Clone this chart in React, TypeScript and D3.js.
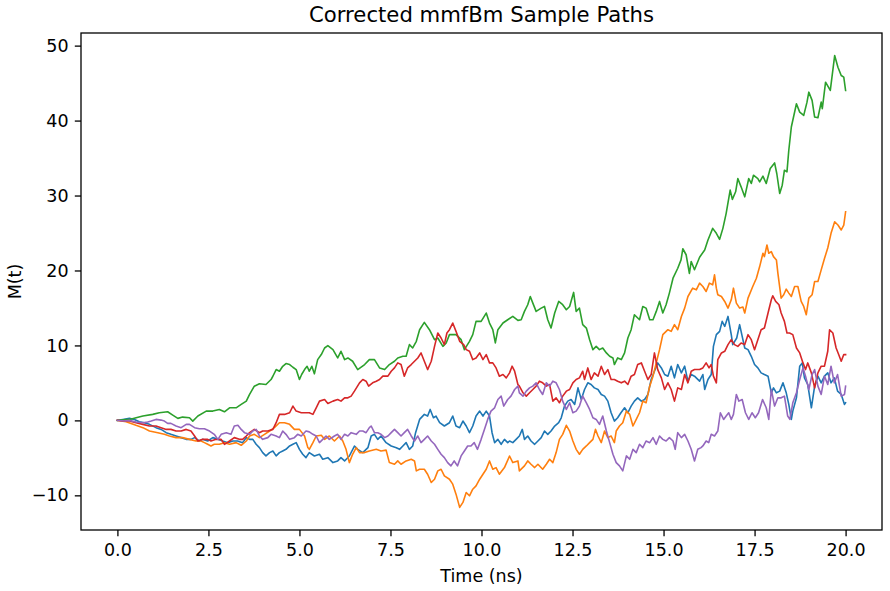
import { useEffect, useRef } from 'react';
import * as d3 from 'd3';

const W = 890;
const H = 591;
const MARGIN = { top: 33, right: 8, bottom: 61, left: 81 };
const FONT = '"DejaVu Sans", sans-serif';

type Pt = [number, number];

// [time (ns), M(t)] for each sample path
const pathBlue: Pt[] = [
  [0, 0], [0.15, 0.13], [0.33, 0.27], [0.47, 0.13], [0.6, -0.18], [0.74, -0.31], [0.88, -0.53], [1.06, -0.97],
  [1.2, -1.2], [1.34, -1.64], [1.47, -1.86], [1.61, -2.08], [1.75, -2.3], [1.89, -2.53], [2.02, -2.53], [2.12, -2.3],
  [2.25, -2.75], [2.34, -2.53], [2.48, -2.75], [2.62, -2.3], [2.76, -2.53], [2.89, -2.75], [3.03, -2.97], [3.17, -2.75],
  [3.3, -2.75], [3.44, -2.97], [3.54, -2.3], [3.63, -2.53], [3.72, -2.53], [3.81, -3.19], [3.9, -3.63], [3.99, -4.3],
  [4.08, -4.74], [4.18, -4.3], [4.27, -4.08], [4.36, -4.74], [4.45, -4.3], [4.54, -4.08], [4.63, -3.86], [4.73, -3.41],
  [4.82, -3.19], [4.91, -2.97], [5.0, -3.86], [5.09, -4.52], [5.18, -4.96], [5.27, -4.3], [5.41, -4.75], [5.55, -4.52],
  [5.64, -5.19], [5.78, -4.97], [5.92, -5.63], [6.05, -5.41], [6.14, -4.97], [6.24, -5.41], [6.37, -4.75], [6.51, -3.42],
  [6.6, -3.86], [6.74, -4.3], [6.88, -3.64], [6.97, -2.08], [7.06, -1.86], [7.15, -2.53], [7.24, -2.08], [7.38, -2.97],
  [7.52, -3.42], [7.66, -3.64], [7.75, -3.86], [7.84, -3.42], [7.93, -2.97], [8.02, -3.86], [8.11, -3.42], [8.19, -1.64],
  [8.3, 0.13], [8.43, 0.8], [8.52, 0.58], [8.59, 1.46], [8.68, 0.35], [8.75, 0.58], [8.85, -0.31], [8.98, -0.75],
  [9.12, -0.31], [9.21, 0.58], [9.3, -0.75], [9.4, -0.97], [9.49, -0.09], [9.58, -0.75], [9.67, -1.64], [9.76, -0.75],
  [9.85, 0.58], [9.95, 1.24], [10.04, 0.58], [10.13, 1.24], [10.22, 0.58], [10.29, -1.64], [10.36, -2.97], [10.45, -2.53],
  [10.54, -3.19], [10.63, -2.53], [10.72, -2.97], [10.77, -2.75], [10.86, -2.97], [10.95, -2.53], [11.04, -2.08], [11.12, -1.2],
  [11.18, -2.53], [11.27, -2.08], [11.36, -2.75], [11.46, -3.19], [11.55, -2.75], [11.64, -2.3], [11.73, -1.42], [11.82, -1.86],
  [11.91, -1.42], [12.01, -0.75], [12.12, -0.31], [12.19, 0.35], [12.28, 1.91], [12.37, 2.57], [12.46, 2.79], [12.56, 2.13],
  [12.65, 4.34], [12.74, 2.79], [12.83, 4.12], [12.92, 5.01], [13.01, 4.79], [13.1, 4.34], [13.2, 4.12], [13.29, 3.46],
  [13.38, 3.24], [13.47, 2.57], [13.56, 1.02], [13.65, -0.09], [13.74, 0.35], [13.83, 1.02], [13.93, 1.68], [14.02, 1.02],
  [14.11, 1.91], [14.2, 2.57], [14.29, 3.01], [14.39, 2.57], [14.48, 2.79], [14.57, 3.46], [14.66, 5.45], [14.75, 6.56],
  [14.84, 7.67], [14.94, 7.0], [15.03, 6.12], [15.12, 5.9], [15.21, 7.23], [15.3, 5.67], [15.39, 7.45], [15.49, 6.34],
  [15.58, 7.23], [15.67, 5.23], [15.76, 6.12], [15.85, 5.9], [15.99, 5.23], [16.08, 6.12], [16.13, 4.12], [16.22, 5.45],
  [16.31, 6.12], [16.37, 9.88], [16.45, 11.44], [16.54, 11.88], [16.61, 13.21], [16.68, 12.54], [16.77, 13.87], [16.86, 11.44],
  [16.9, 10.11], [17.01, 10.99], [17.09, 12.77], [17.16, 11.21], [17.23, 9.66], [17.32, 9.44], [17.41, 8.55], [17.5, 7.45],
  [17.59, 7.0], [17.68, 6.34], [17.77, 6.12], [17.87, 5.9], [17.96, 3.68], [18.02, 4.34], [18.1, 3.68], [18.19, 3.9],
  [18.28, 5.01], [18.37, 3.68], [18.44, 2.13], [18.51, 0.13], [18.55, 1.24], [18.65, 3.01], [18.74, 7.23], [18.81, 7.67],
  [18.87, 5.67], [18.96, 4.79], [19.06, 1.68], [19.15, 4.57], [19.24, 5.9], [19.33, 5.01], [19.42, 5.9], [19.51, 6.34],
  [19.6, 5.01], [19.69, 5.67], [19.78, 3.9], [19.88, 3.46], [19.97, 2.13], [20.0, 2.35],
];

const pathOrange: Pt[] = [
  [0, 0], [0.24, -0.18], [0.51, -0.66], [0.7, -0.97], [0.88, -1.42], [1.11, -1.64], [1.29, -1.86], [1.43, -2.08],
  [1.61, -2.3], [1.79, -2.3], [1.98, -2.53], [2.16, -2.75], [2.3, -2.75], [2.39, -2.97], [2.48, -3.19], [2.57, -3.41],
  [2.66, -3.19], [2.8, -3.19], [2.94, -2.97], [3.08, -3.19], [3.26, -2.97], [3.4, -3.32], [3.54, -2.75], [3.63, -2.08],
  [3.76, -1.86], [3.9, -2.3], [4.04, -1.86], [4.18, -1.42], [4.31, -0.97], [4.45, -0.31], [4.59, -0.31], [4.73, -0.53],
  [4.86, -1.2], [5.0, -1.2], [5.14, -2.08], [5.23, -3.63], [5.27, -3.86], [5.37, -2.97], [5.46, -2.08], [5.6, -1.99],
  [5.69, -2.53], [5.82, -2.08], [5.96, -2.75], [6.1, -2.08], [6.19, -2.75], [6.28, -3.86], [6.37, -5.63], [6.46, -4.52],
  [6.56, -3.64], [6.65, -4.3], [6.79, -4.3], [6.92, -4.08], [7.11, -3.86], [7.24, -4.08], [7.38, -3.97], [7.47, -5.63],
  [7.61, -5.85], [7.7, -5.41], [7.79, -5.85], [7.93, -5.41], [8.07, -5.19], [8.16, -5.41], [8.21, -6.74], [8.3, -6.52],
  [8.43, -6.52], [8.52, -7.18], [8.62, -8.29], [8.71, -7.85], [8.8, -6.74], [8.89, -6.52], [8.98, -7.4], [9.12, -7.85],
  [9.21, -8.51], [9.3, -9.84], [9.4, -11.61], [9.49, -10.94], [9.58, -9.62], [9.67, -10.06], [9.76, -9.18], [9.85, -8.74],
  [9.95, -7.85], [10.04, -7.18], [10.13, -6.52], [10.22, -5.41], [10.31, -6.52], [10.4, -6.3], [10.49, -7.18], [10.63, -6.3],
  [10.77, -4.75], [10.86, -5.63], [11.0, -5.41], [11.04, -6.74], [11.18, -6.07], [11.27, -5.41], [11.36, -5.85], [11.46, -6.29],
  [11.55, -5.85], [11.68, -6.52], [11.78, -5.85], [11.87, -5.19], [11.96, -5.63], [12.05, -4.3], [12.14, -2.53], [12.23, -1.86],
  [12.33, -0.66], [12.42, -1.42], [12.51, -2.75], [12.6, -3.86], [12.69, -4.52], [12.78, -3.86], [12.88, -3.41], [12.97, -2.97],
  [13.06, -2.53], [13.13, -1.2], [13.2, -2.08], [13.29, -2.97], [13.38, -1.42], [13.47, -2.3], [13.56, -2.08], [13.65, -2.97],
  [13.7, -1.42], [13.79, -0.75], [13.88, -0.31], [13.98, 1.24], [14.07, 0.8], [14.16, -0.75], [14.25, 0.13], [14.34, 1.02],
  [14.43, 2.57], [14.52, 2.35], [14.62, 4.57], [14.71, 5.9], [14.8, 7.67], [14.89, 9.44], [14.98, 11.44], [15.12, 12.1],
  [15.21, 11.88], [15.3, 12.77], [15.39, 12.1], [15.49, 13.87], [15.58, 14.98], [15.67, 16.53], [15.8, 17.64], [15.9, 17.42],
  [15.99, 18.31], [16.08, 17.86], [16.17, 17.2], [16.26, 18.31], [16.35, 18.09], [16.4, 19.41], [16.45, 17.64], [16.49, 16.76],
  [16.59, 16.53], [16.68, 15.87], [16.77, 14.98], [16.86, 16.09], [16.92, 17.64], [17.0, 15.65], [17.09, 14.98], [17.18, 15.12],
  [17.23, 14.32], [17.32, 16.31], [17.45, 17.86], [17.55, 18.97], [17.64, 20.52], [17.73, 22.3], [17.77, 21.85], [17.84, 23.4],
  [17.89, 22.3], [17.96, 22.52], [18.02, 21.85], [18.1, 21.41], [18.14, 19.64], [18.23, 16.31], [18.3, 16.76], [18.37, 17.51],
  [18.44, 16.98], [18.51, 16.53], [18.6, 17.86], [18.69, 17.86], [18.78, 15.87], [18.85, 15.2], [18.92, 14.1], [18.99, 16.31],
  [19.08, 16.76], [19.15, 18.53], [19.24, 18.53], [19.33, 20.08], [19.42, 21.6], [19.51, 23.0], [19.6, 24.96], [19.7, 26.5],
  [19.79, 26.06], [19.88, 25.4], [19.95, 26.06], [20.0, 27.83],
];

const pathGreen: Pt[] = [
  [0, 0], [0.33, 0.13], [0.7, 0.58], [0.97, 0.8], [1.15, 1.02], [1.38, 1.15], [1.52, 0.71], [1.66, 0.27],
  [1.79, 0.44], [1.98, 0.35], [2.07, -0.09], [2.21, 0.58], [2.44, 1.24], [2.62, 1.24], [2.8, 1.46], [2.94, 1.15],
  [3.08, 1.68], [3.26, 1.68], [3.4, 2.13], [3.54, 2.57], [3.63, 3.46], [3.76, 4.56], [3.9, 4.88], [4.08, 4.79],
  [4.22, 5.45], [4.27, 5.89], [4.36, 6.78], [4.45, 6.56], [4.54, 7.22], [4.63, 7.58], [4.73, 7.45], [4.82, 7.09],
  [4.91, 6.78], [5.0, 5.45], [5.06, 6.12], [5.14, 6.78], [5.21, 7.22], [5.27, 6.56], [5.34, 7.22], [5.41, 6.21],
  [5.5, 8.11], [5.6, 8.78], [5.69, 9.66], [5.78, 9.97], [5.92, 9.44], [6.05, 8.33], [6.14, 9.22], [6.24, 8.11],
  [6.33, 8.33], [6.46, 7.89], [6.6, 6.78], [6.79, 7.45], [6.92, 8.11], [7.06, 8.11], [7.2, 7.0], [7.34, 6.78],
  [7.47, 7.45], [7.61, 7.89], [7.7, 8.33], [7.84, 8.55], [7.93, 8.55], [8.02, 10.11], [8.11, 9.66], [8.21, 10.55],
  [8.3, 12.1], [8.43, 13.08], [8.57, 12.1], [8.71, 10.77], [8.8, 10.99], [8.94, 9.88], [9.03, 10.33], [9.12, 11.44],
  [9.3, 11.44], [9.44, 10.77], [9.53, 9.44], [9.67, 10.55], [9.76, 11.44], [9.85, 13.21], [9.99, 13.21], [10.13, 14.32],
  [10.22, 12.99], [10.31, 12.1], [10.38, 10.33], [10.45, 12.1], [10.59, 12.99], [10.72, 13.43], [10.86, 13.87], [11.0, 13.34],
  [11.09, 13.43], [11.18, 14.54], [11.27, 15.43], [11.34, 16.53], [11.41, 15.65], [11.5, 14.54], [11.64, 14.98], [11.73, 15.2],
  [11.82, 13.43], [11.91, 12.32], [12.01, 14.32], [12.12, 15.87], [12.23, 15.43], [12.33, 14.76], [12.42, 15.2], [12.53, 17.07],
  [12.6, 14.54], [12.69, 14.98], [12.78, 12.77], [12.88, 12.32], [12.97, 10.77], [13.06, 9.44], [13.15, 9.88], [13.24, 9.44],
  [13.33, 9.66], [13.43, 9.0], [13.52, 8.55], [13.61, 8.33], [13.65, 7.45], [13.74, 8.33], [13.84, 8.11], [13.93, 9.0],
  [14.02, 10.99], [14.11, 12.1], [14.2, 14.1], [14.34, 13.43], [14.43, 15.2], [14.52, 14.98], [14.62, 13.43], [14.71, 13.43],
  [14.8, 14.54], [14.89, 15.87], [14.98, 14.32], [15.07, 15.43], [15.16, 16.98], [15.26, 18.97], [15.39, 20.3], [15.48, 21.41],
  [15.53, 22.9], [15.62, 22.1], [15.71, 19.6], [15.76, 21.2], [15.85, 20.1], [15.99, 21.77], [16.13, 22.74], [16.22, 24.07],
  [16.35, 25.62], [16.45, 24.96], [16.54, 24.16], [16.63, 25.62], [16.72, 27.62], [16.83, 30.72], [16.89, 29.48], [16.98, 30.5],
  [17.04, 32.27], [17.13, 31.16], [17.23, 29.83], [17.34, 32.27], [17.41, 31.61], [17.47, 32.71], [17.59, 32.27], [17.64, 31.83],
  [17.73, 32.58], [17.82, 31.61], [17.93, 33.6], [18.05, 34.35], [18.11, 32.94], [18.19, 30.28], [18.26, 31.38], [18.32, 33.38],
  [18.39, 33.16], [18.44, 36.04], [18.51, 39.14], [18.65, 42.24], [18.74, 41.13], [18.85, 40.69], [18.94, 42.46], [18.99, 43.79],
  [19.08, 42.69], [19.15, 40.47], [19.24, 40.38], [19.33, 42.46], [19.36, 41.58], [19.45, 45.12], [19.58, 44.02], [19.7, 48.67],
  [19.79, 47.12], [19.88, 46.01], [19.95, 45.79], [20.0, 44.02],
];

const pathRed: Pt[] = [
  [0, 0], [0.15, -0.09], [0.33, -0.09], [0.51, -0.31], [0.7, -0.53], [0.88, -0.75], [1.06, -0.75], [1.2, -0.97],
  [1.34, -1.2], [1.47, -1.2], [1.61, -1.42], [1.75, -1.42], [1.89, -1.2], [2.02, -1.42], [2.12, -2.08], [2.21, -2.75],
  [2.34, -2.53], [2.48, -2.53], [2.57, -2.75], [2.71, -2.53], [2.85, -2.53], [2.94, -3.19], [3.08, -2.75], [3.21, -2.3],
  [3.35, -2.53], [3.44, -2.53], [3.54, -2.08], [3.63, -1.64], [3.76, -1.2], [3.9, -1.64], [3.99, -1.42], [4.13, -1.42],
  [4.27, -1.2], [4.36, -0.31], [4.45, 0.8], [4.59, 0.8], [4.73, 1.02], [4.82, 1.91], [4.91, 1.24], [5.05, 1.02],
  [5.18, 1.02], [5.27, 1.02], [5.37, 0.8], [5.46, 1.68], [5.55, 2.57], [5.69, 2.79], [5.78, 2.26], [5.92, 2.57],
  [6.05, 2.79], [6.14, 2.57], [6.24, 3.01], [6.33, 3.01], [6.42, 3.24], [6.51, 3.9], [6.65, 5.01], [6.74, 5.45],
  [6.83, 5.23], [6.9, 4.57], [7.01, 5.01], [7.11, 5.23], [7.2, 5.45], [7.29, 5.9], [7.43, 5.9], [7.52, 6.56],
  [7.61, 7.0], [7.7, 7.67], [7.79, 7.45], [7.88, 5.9], [7.97, 7.0], [8.07, 7.45], [8.16, 7.89], [8.25, 8.33],
  [8.34, 9.0], [8.43, 7.89], [8.52, 6.78], [8.62, 7.89], [8.71, 9.88], [8.8, 11.66], [8.89, 10.99], [8.98, 10.11],
  [9.05, 11.66], [9.12, 12.1], [9.21, 12.99], [9.3, 11.88], [9.4, 10.55], [9.51, 10.11], [9.58, 9.44], [9.67, 9.22],
  [9.76, 8.11], [9.85, 8.33], [9.95, 9.0], [10.04, 8.11], [10.13, 8.78], [10.22, 7.67], [10.31, 7.67], [10.4, 7.0],
  [10.49, 5.9], [10.59, 6.12], [10.68, 5.67], [10.77, 6.34], [10.84, 7.23], [10.91, 6.56], [11.0, 4.79], [11.04, 4.57],
  [11.14, 3.68], [11.23, 3.24], [11.32, 3.68], [11.41, 4.12], [11.5, 4.57], [11.59, 5.23], [11.68, 5.01], [11.78, 4.57],
  [11.87, 4.79], [11.96, 2.57], [12.05, 3.01], [12.14, 2.35], [12.23, 3.24], [12.33, 3.9], [12.42, 4.12], [12.51, 5.01],
  [12.6, 5.45], [12.69, 5.67], [12.78, 6.56], [12.83, 5.45], [12.92, 7.0], [13.01, 5.45], [13.1, 6.34], [13.2, 5.9],
  [13.29, 7.23], [13.38, 6.12], [13.47, 6.78], [13.56, 5.45], [13.65, 5.45], [13.74, 5.23], [13.84, 5.01], [13.93, 5.23],
  [14.02, 4.79], [14.11, 5.9], [14.2, 6.12], [14.29, 7.45], [14.39, 7.67], [14.48, 6.56], [14.57, 5.45], [14.66, 6.12],
  [14.75, 9.0], [14.84, 6.78], [14.94, 5.67], [15.03, 4.12], [15.12, 5.01], [15.21, 4.12], [15.3, 2.57], [15.39, 4.34],
  [15.49, 4.12], [15.58, 6.12], [15.67, 5.01], [15.76, 6.56], [15.85, 6.78], [15.99, 6.78], [16.08, 7.0], [16.17, 7.67],
  [16.25, 7.0], [16.31, 7.45], [16.37, 5.9], [16.45, 5.01], [16.49, 8.11], [16.59, 9.0], [16.68, 9.22], [16.77, 10.11],
  [16.86, 10.77], [16.95, 10.11], [17.04, 9.88], [17.13, 10.33], [17.23, 10.11], [17.32, 11.44], [17.41, 10.77], [17.5, 9.44],
  [17.59, 10.77], [17.68, 12.1], [17.77, 12.32], [17.87, 14.32], [17.96, 16.09], [18.0, 16.62], [18.08, 15.87], [18.17, 15.43],
  [18.23, 14.32], [18.32, 13.21], [18.39, 11.66], [18.46, 11.66], [18.55, 11.44], [18.65, 9.66], [18.74, 9.0], [18.83, 7.67],
  [18.9, 6.78], [18.96, 7.67], [19.06, 6.34], [19.15, 4.34], [19.24, 6.34], [19.33, 7.23], [19.42, 7.23], [19.51, 9.22],
  [19.56, 12.1], [19.65, 11.66], [19.74, 9.66], [19.81, 8.78], [19.88, 7.89], [19.95, 8.78], [20.0, 8.78],
];

const pathPurple: Pt[] = [
  [0, 0], [0.19, -0.09], [0.33, 0], [0.51, -0.22], [0.7, -0.31], [0.83, -0.22], [0.93, -0.09], [1.06, 0.13],
  [1.2, 0.04], [1.29, -0.09], [1.38, -0.4], [1.47, -0.4], [1.61, -0.75], [1.75, -0.97], [1.89, -0.53], [1.98, -0.53],
  [2.12, -0.97], [2.25, -1.11], [2.39, -1.11], [2.53, -1.42], [2.66, -1.86], [2.76, -2.53], [2.85, -1.86], [2.99, -1.64],
  [3.12, -1.86], [3.21, -0.75], [3.31, -0.66], [3.4, -1.2], [3.49, -1.64], [3.63, -1.86], [3.72, -1.42], [3.81, -1.2],
  [3.9, -2.08], [3.99, -2.53], [4.13, -2.3], [4.22, -1.86], [4.36, -2.08], [4.45, -2.3], [4.54, -1.42], [4.63, -1.86],
  [4.73, -2.53], [4.86, -2.3], [4.95, -1.86], [5.05, -2.08], [5.18, -1.42], [5.27, -1.53], [5.37, -1.86], [5.46, -2.08],
  [5.55, -2.97], [5.64, -2.53], [5.73, -2.08], [5.82, -2.53], [5.96, -2.08], [6.05, -1.86], [6.14, -2.53], [6.24, -1.86],
  [6.33, -2.08], [6.42, -1.64], [6.56, -1.86], [6.65, -1.42], [6.74, -1.42], [6.83, -1.64], [6.92, -0.97], [6.97, -0.75],
  [7.06, -1.64], [7.15, -1.64], [7.24, -1.86], [7.34, -2.3], [7.43, -2.08], [7.52, -1.64], [7.61, -1.2], [7.7, -1.64],
  [7.79, -2.08], [7.88, -1.64], [7.97, -1.2], [8.07, -2.08], [8.16, -2.75], [8.25, -2.08], [8.34, -2.97], [8.43, -2.53],
  [8.52, -2.08], [8.62, -2.75], [8.71, -3.19], [8.8, -3.86], [8.89, -4.52], [8.98, -4.96], [9.07, -5.63], [9.16, -6.07],
  [9.25, -5.41], [9.34, -6.07], [9.44, -4.74], [9.53, -4.08], [9.62, -3.41], [9.71, -3.41], [9.8, -2.97], [9.89, -3.86],
  [9.99, -2.53], [10.08, -1.2], [10.17, 0.13], [10.26, 1.24], [10.36, 1.68], [10.45, 2.79], [10.54, 3.24], [10.61, 1.91],
  [10.72, 2.79], [10.81, 3.24], [10.91, 4.12], [11.0, 4.57], [11.04, 3.68], [11.14, 3.24], [11.23, 3.9], [11.32, 4.34],
  [11.41, 4.57], [11.5, 5.01], [11.59, 4.12], [11.68, 3.46], [11.78, 5.01], [11.87, 4.57], [11.96, 5.23], [12.05, 5.01],
  [12.14, 4.12], [12.23, 2.57], [12.33, 1.46], [12.42, 2.35], [12.51, 1.02], [12.6, 1.24], [12.69, 1.91], [12.78, 3.24],
  [12.88, 2.35], [12.97, 1.46], [13.06, 0.35], [13.15, 0.13], [13.24, -0.53], [13.33, 0.58], [13.43, -1.42], [13.52, -2.97],
  [13.61, -4.52], [13.7, -5.63], [13.79, -6.07], [13.88, -6.74], [13.98, -4.74], [14.07, -5.19], [14.16, -3.86], [14.25, -4.3],
  [14.34, -3.19], [14.43, -3.63], [14.52, -2.75], [14.62, -2.97], [14.71, -2.3], [14.8, -3.19], [14.89, -2.08], [14.98, -2.53],
  [15.07, -2.75], [15.16, -2.3], [15.26, -2.75], [15.32, -3.86], [15.39, -1.64], [15.49, -2.3], [15.58, -1.86], [15.67, -2.75],
  [15.76, -3.86], [15.85, -5.41], [15.94, -3.86], [16.03, -3.63], [16.08, -3.41], [16.17, -2.75], [16.24, -2.97], [16.31, -1.86],
  [16.4, -2.08], [16.49, -1.42], [16.56, 1.02], [16.65, 0.13], [16.72, 0.58], [16.79, 1.02], [16.86, 0.13], [16.92, 0.8],
  [17.0, 3.46], [17.07, 2.57], [17.16, 2.79], [17.25, 1.02], [17.34, 0.13], [17.43, 1.02], [17.52, 0.35], [17.61, 1.02],
  [17.72, 2.79], [17.82, 1.68], [17.89, 0.13], [17.96, 4.12], [18.05, 1.91], [18.14, 3.01], [18.23, 3.01], [18.32, 3.24],
  [18.41, 0.58], [18.47, 0.13], [18.55, 2.35], [18.65, 3.68], [18.74, 5.45], [18.83, 7.0], [18.9, 5.9], [18.99, 4.12],
  [19.08, 6.12], [19.15, 6.78], [19.24, 4.57], [19.33, 3.46], [19.42, 5.9], [19.51, 4.79], [19.6, 7.23], [19.69, 5.01],
  [19.78, 6.12], [19.88, 3.24], [19.97, 3.46], [20.0, 4.57],
];

const SERIES = [
  { color: '#1f77b4', points: pathBlue },
  { color: '#ff7f0e', points: pathOrange },
  { color: '#2ca02c', points: pathGreen },
  { color: '#d62728', points: pathRed },
  { color: '#9467bd', points: pathPurple },
];

const X_TICKS = [0, 2.5, 5, 7.5, 10, 12.5, 15, 17.5, 20];
const Y_TICKS = [-10, 0, 10, 20, 30, 40, 50];

const TICK_FONT = 17.5;
const TITLE_FONT = 21.2;
const TICK_LEN = 6.2;

export default function App() {
  const svgRef = useRef<SVGSVGElement | null>(null);

  useEffect(() => {
    if (!svgRef.current) return;
    const svg = d3.select(svgRef.current);
    svg.selectAll('*').remove();

    const innerW = W - MARGIN.left - MARGIN.right;
    const innerH = H - MARGIN.top - MARGIN.bottom;

    // autoscale with 5% padding on each side
    const all = SERIES.flatMap(s => s.points);
    const [x0, x1] = d3.extent(all, d => d[0]) as [number, number];
    const [y0, y1] = d3.extent(all, d => d[1]) as [number, number];
    const px = (x1 - x0) * 0.05;
    const py = (y1 - y0) * 0.05;
    const x = d3.scaleLinear().domain([x0 - px, x1 + px]).range([0, innerW]);
    const y = d3.scaleLinear().domain([y0 - py, y1 + py]).range([innerH, 0]);

    const g = svg.append('g').attr('transform', `translate(${MARGIN.left},${MARGIN.top})`);

    g.append('clipPath').attr('id', 'plot-clip')
      .append('rect').attr('width', innerW).attr('height', innerH);

    const line = d3.line<Pt>().x(d => x(d[0])).y(d => y(d[1]));
    const lines = g.append('g').attr('clip-path', 'url(#plot-clip)');
    SERIES.forEach(s => {
      lines.append('path')
        .attr('d', line(s.points))
        .attr('fill', 'none')
        .attr('stroke', s.color)
        .attr('stroke-width', 1.6)
        .attr('stroke-linejoin', 'round')
        .attr('stroke-linecap', 'square');
    });

    const xAxis = d3.axisBottom(x).tickValues(X_TICKS).tickFormat(d => (d as number).toFixed(1))
      .tickSizeInner(TICK_LEN).tickSizeOuter(0).tickPadding(6.2);
    const yAxis = d3.axisLeft(y).tickValues(Y_TICKS)
      .tickFormat(d => ((d as number) < 0 ? `\u2212${Math.abs(d as number)}` : `${d}`))
      .tickSizeInner(TICK_LEN).tickSizeOuter(0).tickPadding(6.2);

    const gx = g.append('g').attr('transform', `translate(0,${innerH})`).call(xAxis);
    const gy = g.append('g').call(yAxis);
    [gx, gy].forEach(a => {
      a.select('.domain').remove();
      a.selectAll('.tick line').attr('stroke', '#000').attr('stroke-width', 1.3);
      a.selectAll('.tick text').attr('fill', '#000')
        .style('font-family', FONT).style('font-size', `${TICK_FONT}px`);
    });
    gx.selectAll('.tick text').attr('dy', '0.78em');

    // frame
    g.append('rect')
      .attr('width', innerW).attr('height', innerH)
      .attr('fill', 'none').attr('stroke', '#000').attr('stroke-width', 1.3);

    svg.append('text')
      .attr('x', MARGIN.left + innerW / 2).attr('y', 22)
      .attr('text-anchor', 'middle')
      .style('font-family', FONT).style('font-size', `${TITLE_FONT}px`)
      .text('Corrected mmfBm Sample Paths');

    svg.append('text')
      .attr('x', MARGIN.left + innerW / 2).attr('y', 582)
      .attr('text-anchor', 'middle')
      .style('font-family', FONT).style('font-size', `${TICK_FONT}px`)
      .text('Time (ns)');

    svg.append('text')
      .attr('transform', `translate(20.5,${MARGIN.top + innerH / 2}) rotate(-90)`)
      .attr('text-anchor', 'middle')
      .style('font-family', FONT).style('font-size', `${TICK_FONT}px`)
      .text('M(t)');
  }, []);

  return (
    <svg
      ref={svgRef}
      width={W}
      height={H}
      style={{ position: 'absolute', left: 0, top: 0, background: '#fff' }}
    />
  );
}
